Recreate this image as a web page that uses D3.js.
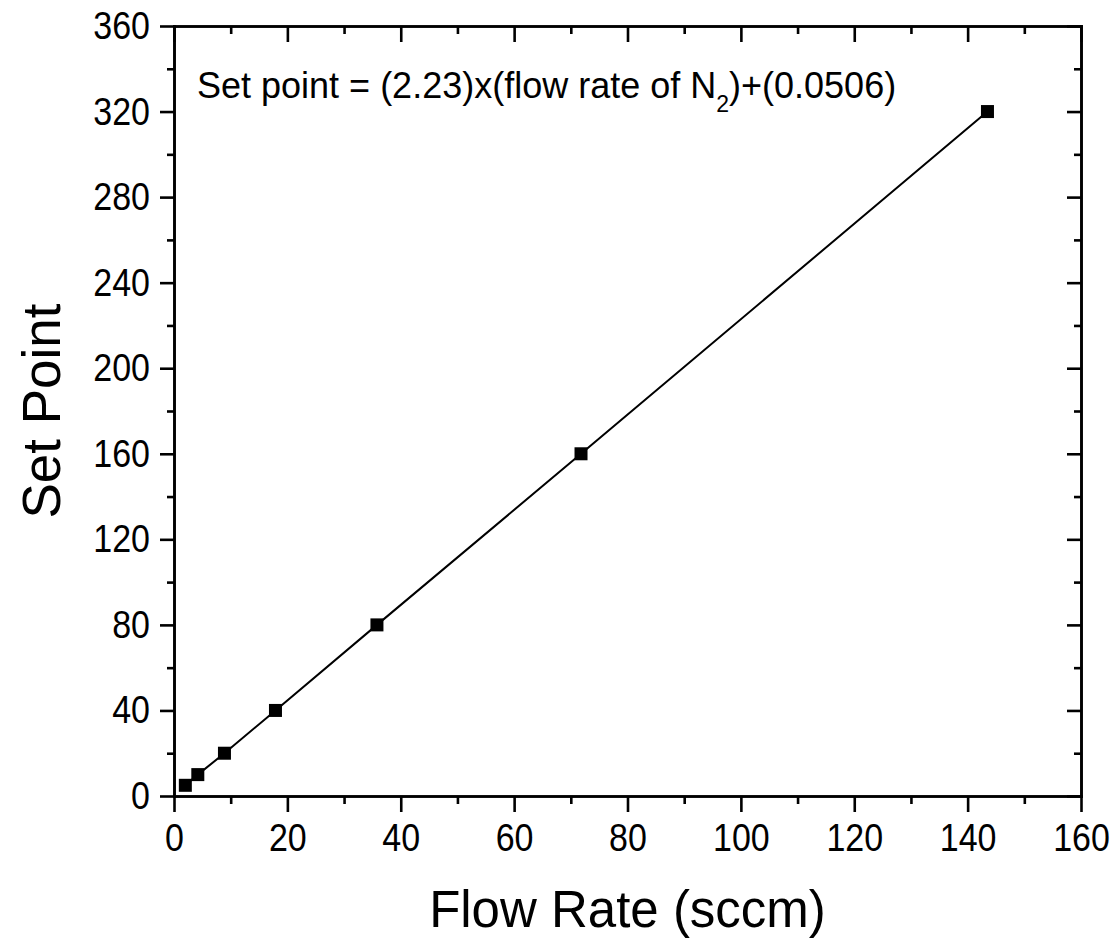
<!DOCTYPE html>
<html lang="en">
<head>
  <meta charset="UTF-8">
  <title>Set Point vs Flow Rate</title>
  <script src="https://d3js.org/d3.v7.min.js"></script>
  <style>
    body { margin: 0; background: white; }
    svg text { font-family: Arial, 'Liberation Sans', sans-serif; fill: black; }
    .axis path, .axis line { stroke: black; stroke-width: 2.6; }
    .axis text { font-size: 34px; }
  </style>
</head>
<body>
  <svg width="1115" height="944"></svg>

  <script>
    // data
    const flowRate = [2, 4.2, 8.9, 17.9, 35.8, 71.8, 143.5];
    const setPoint = [5, 10, 20, 40, 80, 160, 320];

    const xMajor = [0, 20, 40, 60, 80, 100, 120, 140, 160];
    const xMinor = [10, 30, 50, 70, 90, 110, 130, 150];
    const yMajor = [0, 40, 80, 120, 160, 200, 240, 280, 320, 360];
    const yMinor = [20, 60, 100, 140, 180, 220, 260, 300, 340];

    const svg = d3.select("svg");
    const plotL = 174, plotR = 1081, plotT = 26, plotB = 796;

    const x = d3.scaleLinear().domain([0, 160]).range([plotL, plotR]);
    const y = d3.scaleLinear().domain([0, 360]).range([plotB, plotT]);

    // bottom axis
    svg.append("g").attr("class", "axis")
      .attr("transform", `translate(0,${plotB})`)
      .call(d3.axisBottom(x).tickValues(xMajor).tickSize(16).tickPadding(8).tickSizeOuter(0));
    svg.append("g").attr("class", "axis")
      .attr("transform", `translate(0,${plotB})`)
      .call(d3.axisBottom(x).tickValues(xMinor).tickSize(8).tickFormat("").tickSizeOuter(0));

    // left axis
    svg.append("g").attr("class", "axis")
      .attr("transform", `translate(${plotL},0)`)
      .call(d3.axisLeft(y).tickValues(yMajor).tickSize(14).tickPadding(10).tickSizeOuter(0));
    svg.append("g").attr("class", "axis")
      .attr("transform", `translate(${plotL},0)`)
      .call(d3.axisLeft(y).tickValues(yMinor).tickSize(7).tickFormat("").tickSizeOuter(0));

    // top axis, ticks inward
    svg.append("g").attr("class", "axis")
      .attr("transform", `translate(0,${plotT})`)
      .call(d3.axisTop(x).tickValues(xMajor).tickSize(-16).tickFormat("").tickSizeOuter(0));
    svg.append("g").attr("class", "axis")
      .attr("transform", `translate(0,${plotT})`)
      .call(d3.axisTop(x).tickValues(xMinor).tickSize(-8).tickFormat("").tickSizeOuter(0));

    // right axis, ticks inward
    svg.append("g").attr("class", "axis")
      .attr("transform", `translate(${plotR},0)`)
      .call(d3.axisRight(y).tickValues(yMajor).tickSize(-14).tickFormat("").tickSizeOuter(0));
    svg.append("g").attr("class", "axis")
      .attr("transform", `translate(${plotR},0)`)
      .call(d3.axisRight(y).tickValues(yMinor).tickSize(-7).tickFormat("").tickSizeOuter(0));

    svg.selectAll(".axis .domain").attr("stroke-linecap", "square");
    // tick labels in the original are a bit taller than wide
    svg.selectAll(".axis .tick text").attr("transform", "scale(1,1.15)");

    const pts = flowRate.map((f, i) => ({ f: f, s: setPoint[i] }));

    // line through the points
    svg.append("path")
      .datum(pts)
      .attr("fill", "none")
      .attr("stroke", "black")
      .attr("stroke-width", 2)
      .attr("d", d3.line().x(d => x(d.f)).y(d => y(d.s)));

    const m = 13;
    svg.selectAll(".pt")
      .data(pts)
      .enter().append("rect")
        .attr("class", "pt")
        .attr("x", d => x(d.f) - m / 2)
        .attr("y", d => y(d.s) - m / 2)
        .attr("width", m)
        .attr("height", m)
        .attr("fill", "black");

    // equation
    const eq = svg.append("text")
      .attr("x", 197)
      .attr("y", 98)
      .style("font-size", "36px");
    eq.append("tspan").text("Set point = (2.23)x(flow rate of N");
    eq.append("tspan").attr("dy", 14).style("font-size", "23px").text("2");
    eq.append("tspan").attr("dy", -14).text(")+(0.0506)");

    // axis titles
    svg.append("text")
      .attr("x", (plotL + plotR) / 2)
      .attr("y", 927)
      .attr("text-anchor", "middle")
      .style("font-size", "51px")
      .text("Flow Rate (sccm)");

    svg.append("text")
      .attr("transform", `translate(60,${(plotT + plotB) / 2}) rotate(-90)`)
      .attr("text-anchor", "middle")
      .style("font-size", "53px")
      .text("Set Point");
  </script>
</body>
</html>
